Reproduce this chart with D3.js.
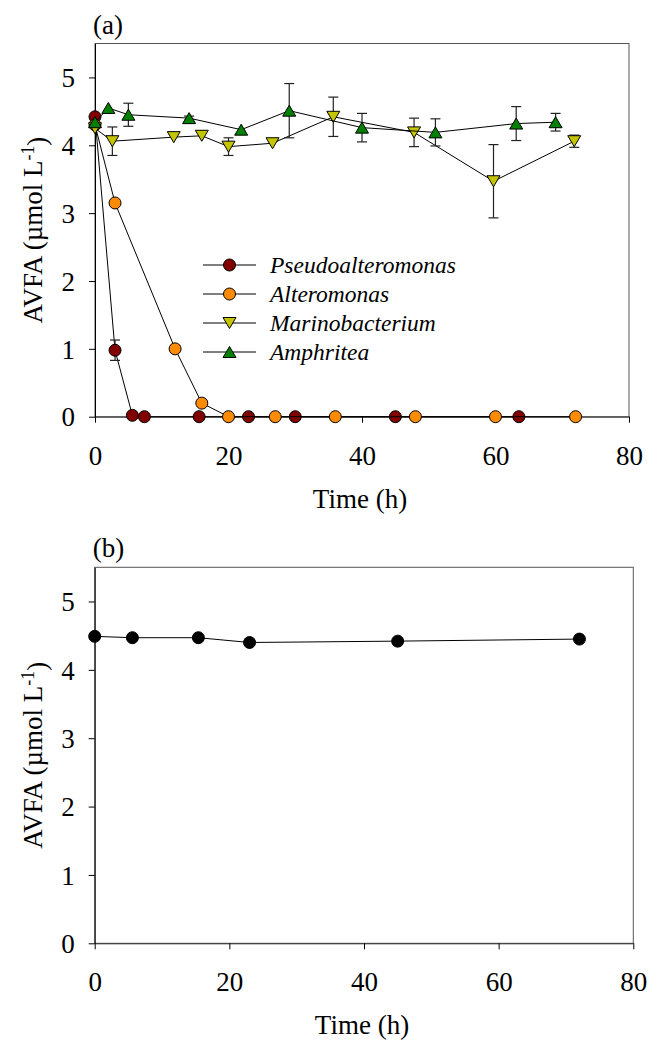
<!DOCTYPE html>
<html>
<head>
<meta charset="utf-8">
<script src="https://cdn.jsdelivr.net/npm/d3@7"></script>
<style>
  body { margin: 0; background: #fff; }
  svg { display: block; }
  svg text { font-family: "Liberation Serif", "Times New Roman", serif; fill: #000; }
</style>
</head>
<body>
<svg id="chart" width="650" height="1042"></svg>
<script>
// ---- Panel (a): AVFA consumption by four isolates ----
const seriesNames = ["Pseudoalteromonas", "Alteromonas", "Marinobacterium", "Amphritea"];

const pseudoTime = [0, 3, 5.6, 7.4, 15.6, 23, 30, 45, 63.5];
const pseudoAVFA = [4.42, 0.98, 0.02, 0, 0, 0, 0, 0, 0];
const pseudoErr  = [0, 0.15, 0, 0, 0, 0, 0, 0, 0];

const alteroTime = [0, 3, 12, 16, 20, 27, 36, 48, 60, 72];
const alteroAVFA = [4.3, 3.15, 1.0, 0.2, 0, 0, 0, 0, 0, 0];
const alteroErr  = [0, 0.04, 0.05, 0, 0, 0, 0, 0, 0, 0];

const marinoTime = [0, 2.6, 11.8, 16, 20, 26.6, 35.7, 47.8, 59.7, 71.8];
const marinoAVFA = [4.25, 4.06, 4.12, 4.14, 3.98, 4.03, 4.42, 4.19, 3.47, 4.06];
const marinoErr  = [0, 0.21, 0, 0, 0.13, 0, 0.29, 0.21, 0.54, 0.09];

const amphriTime = [0, 2, 5, 14.1, 21.9, 29.1, 40, 51, 63.1, 69];
const amphriAVFA = [4.34, 4.55, 4.45, 4.40, 4.23, 4.51, 4.26, 4.19, 4.32, 4.34];
const amphriErr  = [0, 0, 0.17, 0.03, 0, 0.40, 0.21, 0.20, 0.25, 0.13];

// ---- Panel (b): control ----
const controlTime = [0, 5.6, 15.4, 23, 45, 72];
const controlAVFA = [4.49, 4.47, 4.47, 4.40, 4.42, 4.45];

const xTicks = [0, 20, 40, 60, 80];
const yTicks = [0, 1, 2, 3, 4, 5];

const seriesColors = ["#800000", "#ff8c00", "#c4c400", "#008000"];
const seriesShapes = ["circle", "circle", "down", "up"];

const svg = d3.select("#chart");
const FONT = 27;
const SERIF = "Liberation Serif, Times New Roman, serif";

function zip(t, v, e) {
  return t.map((d, i) => ({ t: d, v: v[i], e: e ? e[i] : 0 }));
}

function drawMarker(g, shape, fill, x, y) {
  if (shape === "circle") {
    g.append("circle").attr("cx", x).attr("cy", y).attr("r", 6)
      .attr("fill", fill).attr("stroke", "#000").attr("stroke-width", 1);
  } else {
    const w = 6.5, h = 5.5, s = shape === "up" ? 1 : -1;
    const p = d3.path();
    p.moveTo(x, y - s * h);
    p.lineTo(x + w, y + s * h);
    p.lineTo(x - w, y + s * h);
    p.closePath();
    g.append("path").attr("d", p.toString())
      .attr("fill", fill).attr("stroke", "#000").attr("stroke-width", 1);
  }
}

function panel(opts) {
  const { left, right, top, bottom, label } = opts;
  const x = d3.scaleLinear().domain([0, 80]).range([left, right]);
  const y = d3.scaleLinear().domain([0, 5.5]).range([bottom, top]);
  const g = svg.append("g");

  // frame
  g.append("rect").attr("x", left).attr("y", top)
    .attr("width", right - left).attr("height", bottom - top)
    .attr("fill", "none").attr("stroke", "#555").attr("stroke-width", 1);

  // x axis
  const xa = g.append("g").attr("transform", `translate(0,${bottom})`)
    .call(d3.axisBottom(x).tickValues(xTicks).tickFormat(d3.format("d"))
      .tickSize(6).tickSizeOuter(0));
  xa.attr("font-family", SERIF).attr("font-size", FONT);
  xa.select(".domain").attr("stroke", "#333");
  xa.selectAll(".tick line").attr("stroke", "#000");
  xa.selectAll(".tick text").attr("y", 48).attr("dy", null)
    .attr("font-size", FONT).attr("font-family", SERIF).attr("fill", "#000");

  // y axis
  const ya = g.append("g").attr("transform", `translate(${left},0)`)
    .call(d3.axisLeft(y).tickValues(yTicks).tickFormat(d3.format("d"))
      .tickSize(6).tickSizeOuter(0));
  ya.attr("font-family", SERIF).attr("font-size", FONT);
  ya.select(".domain").attr("stroke", "#000");
  ya.selectAll(".tick line").attr("stroke", "#000");
  ya.selectAll(".tick text").attr("x", -20).attr("dy", "0.34em")
    .attr("font-size", FONT).attr("font-family", SERIF).attr("fill", "#000");

  // axis titles
  g.append("text").attr("x", (left + right) / 2 - 2).attr("y", bottom + 91)
    .attr("text-anchor", "middle").attr("font-size", FONT).text("Time (h)");

  const yt = g.append("text")
    .attr("transform", `translate(42,${(top + bottom) / 2}) rotate(-90)`)
    .attr("text-anchor", "middle").attr("font-size", FONT);
  yt.append("tspan").text("AVFA (µmol L");
  yt.append("tspan").attr("dy", "-0.45em").attr("font-size", FONT * 0.66).text("-1");
  yt.append("tspan").attr("dy", "0.45em").text(")");

  // panel letter
  g.append("text").attr("x", left - 2).attr("y", top - 10)
    .attr("font-size", FONT).text(label);

  return { g, x, y };
}

function drawSeries(p, data, color, shape) {
  const { g, x, y } = p;
  const line = d3.line().x(d => x(d.t)).y(d => y(d.v));
  g.append("path").datum(data).attr("d", line)
    .attr("fill", "none").attr("stroke", "#000").attr("stroke-width", 1);
  // error bars
  data.filter(d => d.e > 0).forEach(d => {
    const cx = x(d.t), y1 = y(d.v + d.e), y2 = y(d.v - d.e);
    g.append("line").attr("x1", cx).attr("x2", cx).attr("y1", y1).attr("y2", y2)
      .attr("stroke", "#222").attr("stroke-width", 1.2);
    [y1, y2].forEach(yy => g.append("line")
      .attr("x1", cx - 5).attr("x2", cx + 5).attr("y1", yy).attr("y2", yy)
      .attr("stroke", "#222").attr("stroke-width", 1.2));
  });
  data.forEach(d => drawMarker(g, shape, color, x(d.t), y(d.v)));
}

// Panel (a)
const pa = panel({ left: 95, right: 629, top: 43.5, bottom: 416.7, label: "(a)" });
const seriesData = [
  zip(pseudoTime, pseudoAVFA, pseudoErr),
  zip(alteroTime, alteroAVFA, alteroErr),
  zip(marinoTime, marinoAVFA, marinoErr),
  zip(amphriTime, amphriAVFA, amphriErr)
];
seriesData.forEach((d, i) => drawSeries(pa, d, seriesColors[i], seriesShapes[i]));

// legend
const legendY = [265, 294, 323, 352];
seriesNames.forEach((name, i) => {
  const ly = legendY[i];
  pa.g.append("line").attr("x1", 203).attr("x2", 256).attr("y1", ly).attr("y2", ly)
    .attr("stroke", "#000").attr("stroke-width", 1);
  drawMarker(pa.g, seriesShapes[i], seriesColors[i], 229.5, ly);
  pa.g.append("text").attr("x", 270).attr("y", ly).attr("dy", "0.33em")
    .attr("font-size", 23.5).attr("font-style", "italic").text(name);
});

// Panel (b)
const pb = panel({ left: 94.7, right: 633.3, top: 567.3, bottom: 943.3, label: "(b)" });
drawSeries(pb, zip(controlTime, controlAVFA, null), "#000", "circle");
</script>
</body>
</html>
